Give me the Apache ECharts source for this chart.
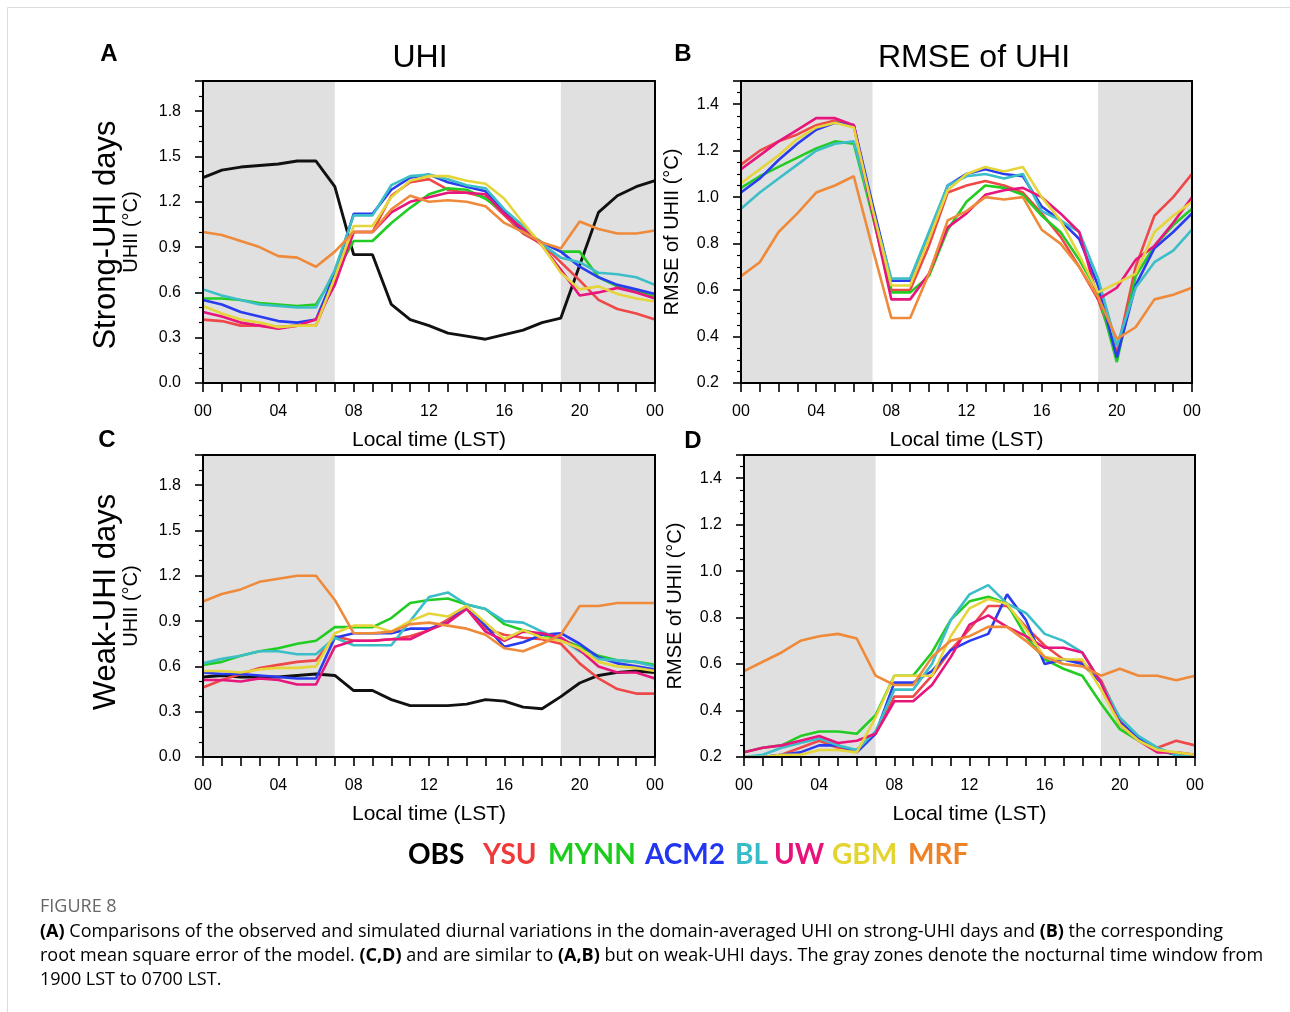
<!DOCTYPE html>
<html>
<head>
<meta charset="utf-8">
<script src="https://cdn.jsdelivr.net/npm/echarts@6/dist/echarts.min.js"></script>
<style>
html,body{margin:0;padding:0;background:#fff;}
#chart{width:1290px;height:1012px;}
</style>
</head>
<body>
<div id="chart"></div>
<script>
// ---------------- data ----------------
const HOURS = [0,1,2,3,4,5,6,7,8,9,10,11,12,13,14,15,16,17,18,19,20,21,22,23,24];
const X_TICK_LABELS = ['00','04','08','12','16','20','00'];
const NIGHT_WINDOWS = [[0,7],[19,24]];
const SERIES_NAMES = ['OBS','YSU','MYNN','ACM2','BL','UW','GBM','MRF'];

// (A) UHI, strong-UHI days
const A_OBS  = [1.36,1.41,1.43,1.44,1.45,1.47,1.47,1.30,0.85,0.85,0.52,0.42,0.38,0.33,0.31,0.29,0.32,0.35,0.40,0.43,0.78,1.13,1.24,1.30,1.34];
const A_YSU  = [0.42,0.41,0.38,0.38,0.37,0.38,0.38,0.68,1.00,1.00,1.24,1.33,1.35,1.28,1.26,1.23,1.11,0.99,0.92,0.80,0.68,0.55,0.49,0.46,0.42];
const A_MYNN = [0.56,0.56,0.55,0.53,0.52,0.51,0.52,0.72,0.94,0.94,1.06,1.16,1.25,1.29,1.28,1.22,1.13,1.02,0.93,0.87,0.87,0.70,0.64,0.61,0.57];
const A_ACM2 = [0.55,0.52,0.47,0.44,0.41,0.40,0.42,0.72,1.12,1.12,1.28,1.36,1.38,1.33,1.30,1.27,1.14,1.00,0.93,0.87,0.77,0.70,0.65,0.62,0.59];
const A_BL   = [0.62,0.58,0.55,0.52,0.51,0.50,0.50,0.75,1.11,1.11,1.31,1.37,1.38,1.35,1.31,1.29,1.15,1.04,0.92,0.83,0.80,0.73,0.72,0.70,0.65];
const A_UW   = [0.47,0.44,0.40,0.38,0.36,0.38,0.42,0.65,1.00,1.00,1.13,1.20,1.23,1.26,1.26,1.25,1.12,1.02,0.91,0.75,0.58,0.60,0.63,0.60,0.56];
const A_GBM  = [0.51,0.46,0.42,0.40,0.37,0.38,0.38,0.70,1.04,1.04,1.23,1.34,1.37,1.37,1.34,1.32,1.22,1.06,0.91,0.73,0.62,0.64,0.59,0.56,0.54];
const A_MRF  = [1.00,0.98,0.94,0.90,0.84,0.83,0.77,0.87,1.00,1.00,1.15,1.24,1.20,1.21,1.20,1.17,1.06,1.00,0.93,0.89,1.07,1.02,0.99,0.99,1.01];

// (B) RMSE of UHI, strong-UHI days
const B_YSU  = [1.14,1.20,1.24,1.27,1.31,1.33,1.31,0.95,0.60,0.60,0.79,1.02,1.05,1.07,1.05,1.02,0.93,0.83,0.70,0.56,0.33,0.70,0.92,1.00,1.10];
const B_MYNN = [1.04,1.09,1.13,1.17,1.21,1.24,1.23,0.92,0.59,0.59,0.66,0.86,0.98,1.05,1.04,1.01,0.92,0.85,0.73,0.59,0.29,0.66,0.79,0.88,0.95];
const B_ACM2 = [1.02,1.08,1.16,1.23,1.29,1.32,1.31,0.97,0.64,0.64,0.83,1.05,1.10,1.12,1.10,1.09,0.96,0.90,0.82,0.62,0.31,0.62,0.78,0.85,0.93];
const B_BL   = [0.95,1.02,1.08,1.14,1.20,1.23,1.24,0.94,0.65,0.65,0.85,1.05,1.09,1.10,1.08,1.10,0.94,0.90,0.85,0.65,0.36,0.61,0.72,0.77,0.86];
const B_UW   = [1.12,1.18,1.24,1.29,1.34,1.34,1.31,0.93,0.56,0.56,0.67,0.87,0.93,1.01,1.03,1.04,1.00,0.93,0.85,0.56,0.61,0.73,0.79,0.89,1.00];
const B_GBM  = [1.06,1.12,1.18,1.25,1.30,1.32,1.30,0.95,0.62,0.62,0.82,1.03,1.10,1.13,1.11,1.13,1.00,0.90,0.75,0.59,0.63,0.67,0.85,0.92,0.98];
const B_MRF  = [0.66,0.72,0.85,0.93,1.02,1.05,1.09,0.78,0.48,0.48,0.67,0.90,0.94,1.00,0.99,1.00,0.86,0.80,0.70,0.57,0.39,0.44,0.56,0.58,0.61];

// (C) UHI, weak-UHI days
const C_OBS  = [0.53,0.54,0.53,0.53,0.53,0.54,0.55,0.54,0.44,0.44,0.38,0.34,0.34,0.34,0.35,0.38,0.37,0.33,0.32,0.40,0.49,0.54,0.56,0.57,0.56];
const C_YSU  = [0.46,0.51,0.55,0.59,0.61,0.63,0.64,0.80,0.77,0.77,0.78,0.80,0.84,0.91,1.00,0.85,0.81,0.79,0.78,0.75,0.62,0.52,0.45,0.42,0.42];
const C_MYNN = [0.61,0.63,0.67,0.70,0.72,0.75,0.77,0.86,0.86,0.86,0.92,1.02,1.04,1.05,1.01,0.98,0.88,0.84,0.81,0.78,0.73,0.67,0.64,0.63,0.61];
const C_ACM2 = [0.56,0.55,0.55,0.54,0.53,0.52,0.52,0.79,0.82,0.82,0.82,0.85,0.85,0.89,1.00,0.87,0.73,0.76,0.81,0.82,0.75,0.66,0.62,0.60,0.58];
const C_BL   = [0.62,0.65,0.67,0.70,0.70,0.68,0.68,0.79,0.74,0.74,0.74,0.90,1.06,1.09,1.01,0.98,0.90,0.89,0.83,0.78,0.70,0.65,0.64,0.63,0.60];
const C_UW   = [0.51,0.51,0.50,0.52,0.51,0.48,0.48,0.73,0.77,0.77,0.78,0.78,0.84,0.89,0.98,0.83,0.77,0.83,0.82,0.79,0.71,0.60,0.56,0.56,0.52];
const C_GBM  = [0.57,0.57,0.56,0.58,0.59,0.59,0.60,0.82,0.87,0.87,0.83,0.90,0.95,0.93,1.00,0.89,0.78,0.84,0.79,0.77,0.72,0.63,0.60,0.59,0.57];
const C_MRF  = [1.03,1.08,1.11,1.16,1.18,1.20,1.20,1.04,0.82,0.82,0.83,0.88,0.89,0.87,0.85,0.81,0.72,0.70,0.75,0.81,1.00,1.00,1.02,1.02,1.02];

// (D) RMSE of UHI, weak-UHI days
const D_YSU  = [0.20,0.20,0.21,0.24,0.27,0.24,0.23,0.30,0.46,0.46,0.55,0.66,0.75,0.85,0.85,0.76,0.68,0.62,0.61,0.53,0.36,0.27,0.24,0.27,0.25];
const D_MYNN = [0.22,0.24,0.25,0.29,0.31,0.31,0.30,0.38,0.55,0.55,0.65,0.79,0.87,0.89,0.86,0.72,0.62,0.58,0.55,0.43,0.32,0.27,0.23,0.21,0.20];
const D_ACM2 = [0.20,0.20,0.21,0.22,0.25,0.25,0.22,0.30,0.52,0.52,0.57,0.66,0.70,0.73,0.90,0.79,0.60,0.62,0.60,0.52,0.35,0.28,0.23,0.21,0.20];
const D_BL   = [0.20,0.21,0.24,0.26,0.28,0.25,0.23,0.31,0.49,0.49,0.60,0.79,0.90,0.94,0.86,0.82,0.73,0.70,0.65,0.52,0.37,0.29,0.24,0.21,0.21];
const D_UW   = [0.22,0.24,0.25,0.27,0.29,0.26,0.27,0.30,0.44,0.44,0.51,0.63,0.77,0.81,0.76,0.72,0.67,0.67,0.65,0.52,0.34,0.27,0.22,0.22,0.21];
const D_GBM  = [0.20,0.20,0.21,0.21,0.23,0.23,0.22,0.37,0.55,0.55,0.55,0.72,0.84,0.88,0.86,0.75,0.63,0.62,0.62,0.49,0.34,0.27,0.23,0.22,0.21];
const D_MRF  = [0.57,0.61,0.65,0.70,0.72,0.73,0.71,0.55,0.51,0.51,0.63,0.70,0.72,0.76,0.76,0.70,0.63,0.60,0.59,0.55,0.58,0.55,0.55,0.53,0.55];

// y-axis settings per panel
const UHI_Y = {min: 0, max: 2.0, interval: 0.3, minorSplit: 3};
const RMSE_Y = {min: 0.2, max: 1.5, interval: 0.2, minorSplit: 4};

// ---------------- styles ----------------
const LINE_COLORS = {OBS:'#111111', YSU:'#ee4848', MYNN:'#22cc22', ACM2:'#2a3cf0', BL:'#3cbec8', UW:'#e8157c', GBM:'#e4d53a', MRF:'#ee8a3a'};
const LEGEND_COLORS = {OBS:'#000000', YSU:'#f03a3a', MYNN:'#1ccc1c', ACM2:'#2236f0', BL:'#36bcc6', UW:'#e8137a', GBM:'#e3d430', MRF:'#ef8226'};
const FONT = 'Liberation Sans, Arial, Helvetica, sans-serif';

const panels = [
  {grid:{left:203, top:81, width:452, height:302}, y:UHI_Y, yName:'UHII (°C)', yGap:62,
   data:{OBS:A_OBS, YSU:A_YSU, MYNN:A_MYNN, ACM2:A_ACM2, BL:A_BL, UW:A_UW, GBM:A_GBM, MRF:A_MRF}},
  {grid:{left:741, top:81, width:451, height:302}, y:RMSE_Y, yName:'RMSE of UHII (°C)', yGap:59,
   data:{YSU:B_YSU, MYNN:B_MYNN, ACM2:B_ACM2, BL:B_BL, UW:B_UW, GBM:B_GBM, MRF:B_MRF}},
  {grid:{left:203, top:455, width:452, height:302}, y:UHI_Y, yName:'UHII (°C)', yGap:62,
   data:{OBS:C_OBS, YSU:C_YSU, MYNN:C_MYNN, ACM2:C_ACM2, BL:C_BL, UW:C_UW, GBM:C_GBM, MRF:C_MRF}},
  {grid:{left:744, top:455, width:451, height:302}, y:RMSE_Y, yName:'RMSE of UHII (°C)', yGap:59,
   data:{YSU:D_YSU, MYNN:D_MYNN, ACM2:D_ACM2, BL:D_BL, UW:D_UW, GBM:D_GBM, MRF:D_MRF}}
];

const grids = [], xAxes = [], yAxes = [], series = [];
panels.forEach((p, i) => {
  grids.push(Object.assign({containLabel:false, show:false}, p.grid));
  const xb = xAxes.length;
  xAxes.push({
    gridIndex:i, type:'value', position:'bottom', min:0, max:24, interval:1, z:6,
    axisLine:{show:true, onZero:false, lineStyle:{color:'#000', width:2}},
    axisTick:{show:true, length:9, lineStyle:{color:'#000', width:1.6}},
    axisLabel:{show:true, margin:21, fontSize:16, color:'#000', fontFamily:FONT,
      formatter:v => (Math.round(v) % 4 === 0 ? X_TICK_LABELS[Math.round(v) / 4] : '')},
    splitLine:{show:false},
    name:'Local time (LST)', nameLocation:'middle', nameGap:47,
    nameTextStyle:{fontSize:21, color:'#000', fontFamily:FONT}
  });
  xAxes.push({
    gridIndex:i, type:'value', position:'top', min:0, max:24, z:6,
    axisLine:{show:true, onZero:false, lineStyle:{color:'#000', width:2}},
    axisTick:{show:false}, axisLabel:{show:false}, splitLine:{show:false}
  });
  const yl = yAxes.length;
  yAxes.push({
    gridIndex:i, type:'value', position:'left', min:p.y.min, max:p.y.max, interval:p.y.interval, z:6,
    axisLine:{show:true, onZero:false, lineStyle:{color:'#000', width:2}},
    axisTick:{show:true, length:8, lineStyle:{color:'#000', width:1.6}},
    minorTick:{show:true, splitNumber:p.y.minorSplit, length:4, lineStyle:{color:'#000', width:1.2}},
    axisLabel:{show:true, margin:22, fontSize:16, color:'#000', fontFamily:FONT, showMaxLabel:false,
      formatter:v => v.toFixed(1)},
    splitLine:{show:false}, minorSplitLine:{show:false},
    name:p.yName, nameLocation:'middle', nameRotate:90, nameGap:p.yGap,
    nameTextStyle:{fontSize:20, color:'#000', fontFamily:FONT}
  });
  yAxes.push({
    gridIndex:i, type:'value', position:'right', min:p.y.min, max:p.y.max, z:6,
    axisLine:{show:true, onZero:false, lineStyle:{color:'#000', width:2}},
    axisTick:{show:false}, axisLabel:{show:false}, splitLine:{show:false}
  });
  let first = true;
  SERIES_NAMES.forEach(name => {
    const arr = p.data[name];
    if (!arr) return;
    const s = {
      name: name, type:'line', xAxisIndex:xb, yAxisIndex:yl,
      data: HOURS.map((h, k) => [h, arr[k]]),
      symbol:'none', showSymbol:false, silent:true, z:2,
      lineStyle:{color:LINE_COLORS[name], width:name === 'OBS' ? 2.9 : 2.6},
      itemStyle:{color:LINE_COLORS[name]}
    };
    if (first) {
      s.markArea = {
        silent:true, z:1, label:{show:false},
        itemStyle:{color:'#e0e0e0'},
        data: NIGHT_WINDOWS.map(w => [{xAxis:w[0]}, {xAxis:w[1]}])
      };
      first = false;
    }
    series.push(s);
  });
});

// ---------------- texts ----------------
const txt = (x, y, text, style, extra) => Object.assign({
  type:'text', x:x, y:y,
  style:Object.assign({text:text, fill:'#000', font:'normal 16px ' + FONT, align:'center', verticalAlign:'middle'}, style)
}, extra || {});

const graphics = [
  {type:'rect', shape:{x:7.5, y:7.5, width:1400, height:1200}, style:{fill:'none', stroke:'#dcdcdc', lineWidth:1}, z:-10},
  txt(420, 58, 'UHI', {font:'normal 32px ' + FONT}),
  txt(974, 58, 'RMSE of UHI', {font:'normal 32px ' + FONT}),
  txt(109, 54, 'A', {font:'bold 24px ' + FONT}),
  txt(683, 54, 'B', {font:'bold 24px ' + FONT}),
  txt(107, 440, 'C', {font:'bold 24px ' + FONT}),
  txt(693, 441, 'D', {font:'bold 24px ' + FONT}),
  txt(106, 235, 'Strong-UHI days', {font:'normal 31px ' + FONT}, {rotation:Math.PI / 2}),
  txt(106, 602, 'Weak-UHI days', {font:'normal 31px ' + FONT}, {rotation:Math.PI / 2})
];

// legend words
const LEGEND_X = [408, 483, 548, 645, 735, 774, 832, 908];
SERIES_NAMES.forEach((n, i) => {
  graphics.push(txt(LEGEND_X[i], 855, n, {font:'bold 28px Lato, sans-serif', fill:LEGEND_COLORS[n], align:'left'}));
});

// caption
const CAP_FONT = '"Open Sans", sans-serif';
const capRich = {
  n:{fontFamily:CAP_FONT, fontSize:18, color:'#5a5a5a'},
  b:{fontFamily:CAP_FONT, fontSize:18, fontWeight:'bold', color:'#444'}
};
const CAPTION_LINES = [
  '{b|(A)}{n| Comparisons of the observed and simulated diurnal variations in the domain-averaged UHI on strong-UHI days and }{b|(B)}{n| the corresponding}',
  '{n|root mean square error of the model. }{b|(C,D)}{n| and are similar to }{b|(A,B)}{n| but on weak-UHI days. The gray zones denote the nocturnal time window from}',
  '{n|1900 LST to 0700 LST.}'
];
graphics.push(txt(40, 907, 'FIGURE 8', {font:'normal 18px ' + CAP_FONT, fill:'#666', align:'left'}));
CAPTION_LINES.forEach((l, i) => {
  graphics.push({type:'text', x:40, y:932 + i * 24,
    style:{text:l, rich:capRich, align:'left', verticalAlign:'middle'}});
});

const chart = echarts.init(document.getElementById('chart'), null, {renderer:'canvas'});
chart.setOption({
  backgroundColor:'#ffffff',
  animation:false,
  textStyle:{fontFamily:FONT},
  grid:grids, xAxis:xAxes, yAxis:yAxes, series:series,
  graphic:graphics
});
</script>
</body>
</html>
